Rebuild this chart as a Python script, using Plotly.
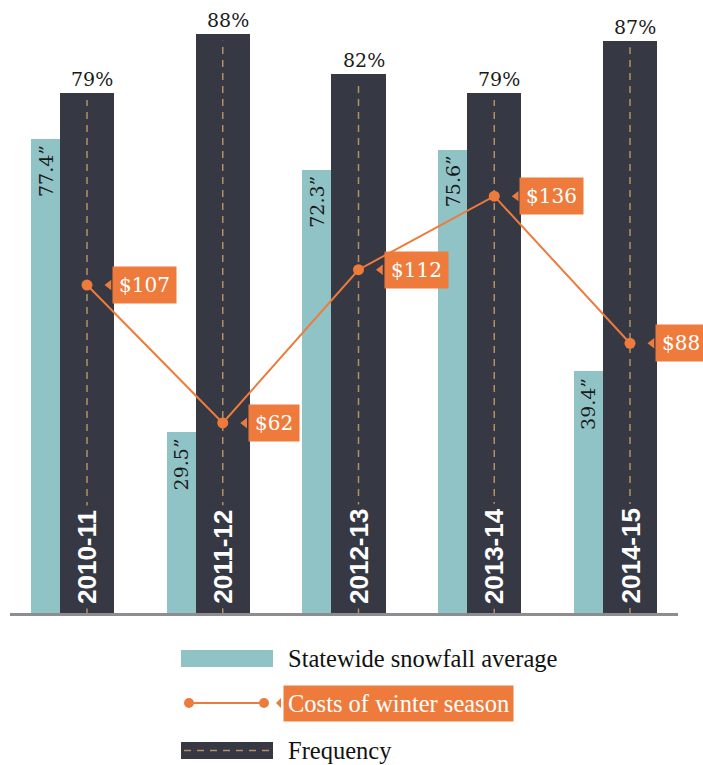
import numpy as np
import plotly.graph_objects as go

categories = ["2010-11", "2011-12", "2012-13", "2013-14", "2014-15"]
snowfall = [77.4, 29.5, 72.3, 75.6, 39.4]
costs = [107, 62, 112, 136, 88]
frequency = [79, 88, 82, 79, 87]

TEAL = "#8fc3c6"
DARK = "#363843"
ORANGE = "#ee7b3c"
TAN = "#b39064"
SERIF_TW = "DejaVu Serif"

W, H = 703, 765
PLOT_H = 613
PXU = 135.75  # px per category unit

idx = np.arange(len(categories))
teal_x = idx - 0.306
tri_x = idx + 22 / PXU

fig = go.Figure()

fig.add_trace(go.Bar(x=teal_x, y=snowfall, width=0.214, marker=dict(color=TEAL, line=dict(width=0)),
                     yaxis="y", hoverinfo="skip", showlegend=False))
fig.add_trace(go.Bar(x=idx, y=frequency, width=0.398, marker=dict(color=DARK, line=dict(width=0)),
                     yaxis="y2", hoverinfo="skip", showlegend=False))
for i in idx:
    fig.add_trace(go.Scatter(x=[i, i], y=[0, frequency[i] - 1], mode="lines", yaxis="y2",
                             line=dict(color=TAN, width=1.5, dash="7px,6px"),
                             hoverinfo="skip", showlegend=False))

fig.add_trace(go.Scatter(x=idx, y=costs, mode="lines+markers", yaxis="y3",
                         line=dict(color=ORANGE, width=2),
                         marker=dict(color=ORANGE, size=11),
                         hoverinfo="skip", showlegend=False))
fig.add_trace(go.Scatter(x=tri_x, y=costs, mode="markers", yaxis="y3",
                         marker=dict(color=ORANGE, size=9, symbol="triangle-left"),
                         hoverinfo="skip", showlegend=False))

ann = []
for i in idx:
    # year labels inside dark bars
    ann.append(dict(x=i, y=0, xref="x", yref="y2", text=categories[i], showarrow=False,
                    textangle=-90, xanchor="center", yanchor="bottom", yshift=4,
                    bgcolor=DARK, borderpad=4,
                    font=dict(family="Liberation Sans", size=26, color="white", weight="bold")))
    # snowfall labels
    ann.append(dict(x=teal_x[i], y=snowfall[i], xref="x", yref="y", text=f"{snowfall[i]}\u201d",
                    showarrow=False, textangle=-90, xanchor="center", yanchor="top", yshift=-4,
                    font=dict(family=SERIF_TW, size=19, color="#1a1a1a")))
    # frequency labels
    ann.append(dict(x=i, y=frequency[i], xref="x", yref="y2", text=f"{frequency[i]}%",
                    showarrow=False, xanchor="center", yanchor="bottom", xshift=5, yshift=1,
                    font=dict(family=SERIF_TW, size=19, color="#1a1a1a")))
    # cost labels
    ann.append(dict(x=i, y=costs[i], xref="x", yref="y3", text=f"${costs[i]}",
                    showarrow=False, xanchor="left", yanchor="middle", xshift=25,
                    bgcolor=ORANGE, borderpad=6,
                    font=dict(family=SERIF_TW, size=20, color="white")))


def px(x):
    return x / W


def py(y):
    return (PLOT_H - y) / PLOT_H


LEG_FONT = 24.5
# legend texts
ann.append(dict(x=px(286), y=py(658), xref="paper", yref="paper", text="Statewide snowfall average",
                showarrow=False, xanchor="left", yanchor="middle",
                font=dict(family="Liberation Serif", size=LEG_FONT, color="#111")))
ann.append(dict(x=px(283), y=py(703), xref="paper", yref="paper", text="Costs of winter season",
                showarrow=False, xanchor="left", yanchor="middle", bgcolor=ORANGE, borderpad=4,
                font=dict(family="Liberation Serif", size=LEG_FONT, color="white")))
ann.append(dict(x=px(286), y=py(750), xref="paper", yref="paper", text="Frequency",
                showarrow=False, xanchor="left", yanchor="middle",
                font=dict(family="Liberation Serif", size=LEG_FONT, color="#111")))

shapes = [
    # baseline
    dict(type="line", xref="paper", yref="paper", x0=px(10), x1=px(678), y0=py(614.5), y1=py(614.5),
         line=dict(color="#8d8c91", width=3), layer="above"),
    # legend: snowfall
    dict(type="rect", xref="paper", yref="paper", x0=px(181), x1=px(273), y0=py(650), y1=py(667),
         fillcolor=TEAL, line=dict(width=0)),
    # legend: costs
    dict(type="line", xref="paper", yref="paper", x0=px(189), x1=px(264), y0=py(703), y1=py(703),
         line=dict(color=ORANGE, width=2)),
    dict(type="circle", xref="paper", yref="paper", x0=px(184), x1=px(194), y0=py(698), y1=py(708),
         fillcolor=ORANGE, line=dict(width=0)),
    dict(type="circle", xref="paper", yref="paper", x0=px(259), x1=px(269), y0=py(698), y1=py(708),
         fillcolor=ORANGE, line=dict(width=0)),
    dict(type="path", xref="paper", yref="paper",
         path=f"M {px(276)} {py(703)} L {px(281)} {py(698)} L {px(281)} {py(708)} Z",
         fillcolor=ORANGE, line=dict(width=0)),
    # legend: frequency
    dict(type="rect", xref="paper", yref="paper", x0=px(181), x1=px(273), y0=py(742), y1=py(759),
         fillcolor=DARK, line=dict(width=0)),
    dict(type="line", xref="paper", yref="paper", x0=px(184), x1=px(273), y0=py(750.5), y1=py(750.5),
         line=dict(color=TAN, width=1.5, dash="7px,6px")),
]

fig.update_layout(
    width=W, height=H,
    margin=dict(l=0, r=0, t=0, b=H - PLOT_H),
    paper_bgcolor="white", plot_bgcolor="white",
    barmode="overlay", bargap=0,
    xaxis=dict(range=[-87 / PXU, 4 + (W - 630) / PXU], visible=False, fixedrange=True),
    yaxis=dict(range=[0, 100], visible=False),
    yaxis2=dict(range=[0, 93.2], visible=False, overlaying="y"),
    yaxis3=dict(range=[0, 200], visible=False, overlaying="y"),
    annotations=ann,
    shapes=shapes,
    showlegend=False,
)

fig.write_html("out.html")
